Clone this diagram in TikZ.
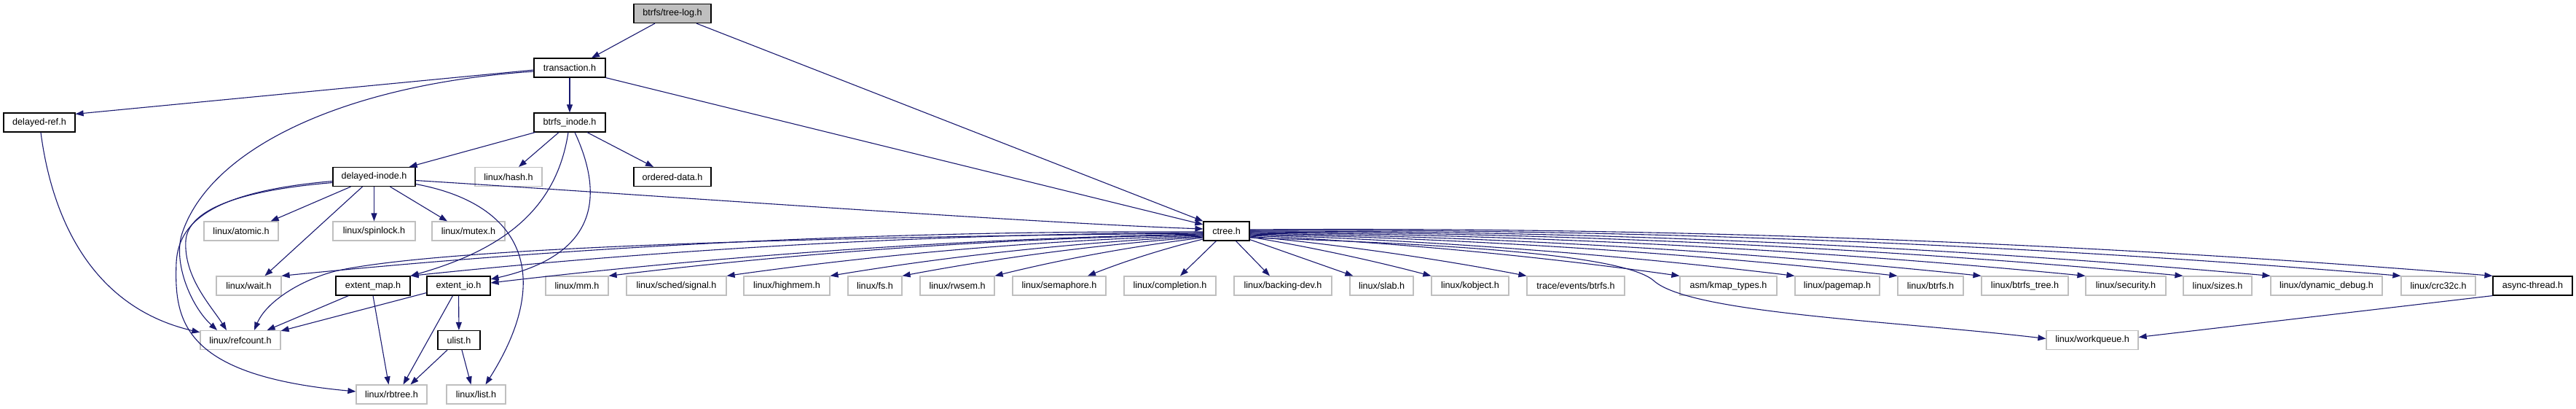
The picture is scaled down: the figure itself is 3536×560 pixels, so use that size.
\documentclass[tikz,border=0pt]{standalone}
\usepackage{fontspec}
\setmainfont{Liberation Sans}
\usetikzlibrary{arrows.meta,calc}
\definecolor{edgeblue}{HTML}{191970}
\definecolor{boxgrey}{HTML}{BFBFBF}
\begin{document}
\begin{tikzpicture}[x=1pt,y=-1pt,
  box/.style={draw=black, line width=1.2pt, fill=white, minimum height=26pt, inner sep=0pt,
    font=\fontsize{12.6}{15}\selectfont, text=black},
  ext/.style={box, draw=boxgrey},
  root/.style={box, fill=boxgrey},
  dep/.style={draw=edgeblue, line width=1.1pt, -{Triangle[length=11pt,width=8pt]}},
]
\fill[white] (0,0) rectangle (3536,560);
\useasboundingbox (0,0) rectangle (3536,560);

% row 0-3
\node[root, minimum width=106pt] (treelog) at (923,18.5) {btrfs/tree-log.h};
\node[box, minimum width=98pt] (transaction) at (782,93) {transaction.h};
\node[box, minimum width=98pt] (delayedref) at (54,168) {delayed-ref.h};
\node[box, minimum width=98pt] (btrfsinode) at (782,168) {btrfs\_inode.h};
\node[box, minimum width=113pt] (delayedinode) at (513.5,242.5) {delayed-inode.h};
\node[ext, minimum width=92pt] (hash) at (698,242.5) {linux/hash.h};
\node[box, minimum width=106pt] (ordered) at (923,242.5) {ordered-data.h};
% row 4
\node[ext, minimum width=102pt] (atomic) at (331,317) {linux/atomic.h};
\node[ext, minimum width=113pt] (spinlock) at (513.5,317) {linux/spinlock.h};
\node[ext, minimum width=100pt] (mutex) at (643,317) {linux/mutex.h};
\node[box, minimum width=63pt] (ctree) at (1683.5,317) {ctree.h};
% row 5
\node[ext, minimum width=89pt] (wait) at (341.5,392) {linux/wait.h};
\node[box, minimum width=102pt] (extentmap) at (512,392) {extent\_map.h};
\node[box, minimum width=87pt] (extentio) at (629.5,392) {extent\_io.h};
\node[ext, minimum width=86pt] (mm) at (792,392) {linux/mm.h};
\node[ext, minimum width=137pt] (signal) at (928.5,392) {linux/sched/signal.h};
\node[ext, minimum width=118pt] (highmem) at (1080,392) {linux/highmem.h};
\node[ext, minimum width=74pt] (fs) at (1201,392) {linux/fs.h};
\node[ext, minimum width=102pt] (rwsem) at (1314,392) {linux/rwsem.h};
\node[ext, minimum width=128pt] (semaphore) at (1454,392) {linux/semaphore.h};
\node[ext, minimum width=126pt] (completion) at (1606,392) {linux/completion.h};
\node[ext, minimum width=134pt] (backingdev) at (1761,392) {linux/backing-dev.h};
\node[ext, minimum width=87pt] (slab) at (1896.5,392) {linux/slab.h};
\node[ext, minimum width=106pt] (kobject) at (2018,392) {linux/kobject.h};
\node[ext, minimum width=134pt] (trace) at (2163,392) {trace/events/btrfs.h};
\node[ext, minimum width=133pt] (kmap) at (2372.5,392) {asm/kmap\_types.h};
\node[ext, minimum width=116pt] (pagemap) at (2522,392) {linux/pagemap.h};
\node[ext, minimum width=90pt] (btrfs) at (2650,392) {linux/btrfs.h};
\node[ext, minimum width=119pt] (btrfstree) at (2779.5,392) {linux/btrfs\_tree.h};
\node[ext, minimum width=110pt] (security) at (2918,392) {linux/security.h};
\node[ext, minimum width=94pt] (sizes) at (3044,392) {linux/sizes.h};
\node[ext, minimum width=153pt] (dyndebug) at (3193.5,392) {linux/dynamic\_debug.h};
\node[ext, minimum width=102pt] (crc32c) at (3347,392) {linux/crc32c.h};
\node[box, minimum width=109pt] (async) at (3476.5,392) {async-thread.h};
% row 6-7
\node[ext, minimum width=110pt] (refcount) at (330,466.5) {linux/refcount.h};
\node[box, minimum width=58pt] (ulist) at (630,466.5) {ulist.h};
\node[ext, minimum width=126pt] (workqueue) at (2872,466.5) {linux/workqueue.h};
\node[ext, minimum width=97pt] (rbtree) at (537.5,541) {linux/rbtree.h};
\node[ext, minimum width=81pt] (list) at (653.5,541) {linux/list.h};

% tree-log
\draw[dep] ($(treelog.south)+(-24,0)$) -- ($(transaction.north)+(30,0)$);
\draw[dep] ($(treelog.south)+(33,0)$) -- (ctree.north west);
% transaction
\draw[dep] ($(transaction.west)+(0,3)$) -- ($(delayedref.north east)+(0,2)$);
\draw[dep] (transaction) -- (btrfsinode);
\draw[dep] (transaction.south east) -- ($(ctree.west)+(0,-9)$);
\draw[dep] ($(transaction.west)+(0,5)$) .. controls (480,115) and (290,200) .. (250,320)
  .. controls (237,360) and (262,420) .. ($(refcount.north)+(-32,0)$);
% delayed-ref
\draw[dep] ($(delayedref.south)+(2,0)$) .. controls (70,290) and (120,420) .. ($(refcount.north west)+(0,3)$);
% btrfs_inode
\draw[dep] ($(btrfsinode.south west)+(2,0)$) -- ($(delayedinode.north east)+(-9,0)$);
\draw[dep] ($(btrfsinode.south)+(-15,0)$) -- ($(hash.north)+(14,0)$);
\draw[dep] ($(btrfsinode.south)+(24,0)$) -- ($(ordered.north)+(-26,0)$);
\draw[dep] ($(btrfsinode.south)+(-2,0)$) .. controls (765,280) and (700,340) .. (extentmap.north east);
\draw[dep] ($(btrfsinode.south)+(7,0)$) .. controls (830,270) and (820,350) .. ($(extentio.east)+(0,-9)$);
% delayed-inode
\draw[dep] ($(delayedinode.south)+(-32,0)$) -- ($(atomic.north east)+(-11,0)$);
\draw[dep] ($(delayedinode.south)+(-16,0)$) -- ($(wait.north)+(22,0)$);
\draw[dep] (delayedinode) -- (spinlock);
\draw[dep] ($(delayedinode.south)+(22,0)$) -- ($(mutex.north)+(-29,0)$);
\draw[dep] ($(delayedinode.west)+(0,8)$) .. controls (320,262) and (258,290) .. (255,330)
  .. controls (252,380) and (290,420) .. ($(refcount.north)+(-19,0)$);
\draw[dep] ($(delayedinode.west)+(0,6)$) .. controls (300,262) and (245,300) .. (242,360)
  .. controls (239,440) and (250,515) .. ($(rbtree.west)+(0,-4)$);
\draw[dep] ($(delayedinode.east)+(0,10)$) .. controls (720,280) and (760,380) .. ($(list.north)+(13,0)$);
\draw[dep] ($(delayedinode.east)+(0,5)$) .. controls (900,268) and (1400,305) .. ($(ctree.west)+(0,-3)$);
% extent_map, extent_io, ulist, async
\draw[dep] ($(extentmap.south west)+(18,0)$) -- ($(refcount.north east)+(-19,0)$);
\draw[dep] (extentmap.south) -- ($(rbtree.north)+(-4,0)$);
\draw[dep] ($(extentio.south west)+(0,-4)$) -- ($(refcount.north east)+(0,1)$);
\draw[dep] ($(extentio.south)+(-8,0)$) -- ($(rbtree.north)+(16,0)$);
\draw[dep] (extentio) -- (ulist);
\draw[dep] ($(ulist.south)+(-16,0)$) -- ($(rbtree.north)+(26,0)$);
\draw[dep] ($(ulist.south)+(4,0)$) -- ($(list.north)+(-7,0)$);
\draw[dep] (async.south west) -- ($(workqueue.east)+(0,-4)$);
% ctree fan (left)
\foreach \t/\s/\k in {wait/1/22, extentmap/2/18, mm/5/14, signal/6/12, highmem/7/10, fs/8/8, rwsem/9/6}{
  \path ($(ctree.west)+(0,\s)$) coordinate (fanS) (\t.north east) coordinate (fanE);
  \draw[dep] (fanS) .. controls ($(fanS)!0.33!(fanE)+(0,-\k)$) and ($(fanS)!0.67!(fanE)+(0,-\k)$) .. (fanE);
}
\path ($(ctree.west)+(0,4)$) coordinate (fanS) ($(extentio.east)+(0,-4)$) coordinate (fanE);
\draw[dep] (fanS) .. controls ($(fanS)!0.33!(fanE)+(0,-16)$) and ($(fanS)!0.67!(fanE)+(0,-16)$) .. (fanE);
\path ($(ctree.west)+(0,11)$) coordinate (fanS) ($(semaphore.north)+(39,0)$) coordinate (fanE);
\draw[dep] (fanS) .. controls ($(fanS)!0.33!(fanE)+(0,-4)$) and ($(fanS)!0.67!(fanE)+(0,-4)$) .. (fanE);
\draw[dep] ($(ctree.west)+(0,3)$) .. controls (1100,325) and (600,340) .. (460,372)
  .. controls (410,385) and (365,415) .. ($(refcount.north)+(19,0)$);
\draw[dep] ($(ctree.south west)+(18,0)$) -- ($(completion.north)+(14,0)$);
\draw[dep] ($(ctree.south)+(13,0)$) -- ($(backingdev.north)+(-18,0)$);
\draw[dep] ($(ctree.south east)+(0,-2)$) -- ($(slab.north west)+(5,0)$);
% ctree fan (right)
\foreach \t/\s/\k in {kobject/8/4, trace/7/6, kmap/6/9, pagemap/5/11, btrfs/4/13, btrfstree/3/15, security/2/17, sizes/1/19, dyndebug/0/21, crc32c/-1/23, async/-2/25}{
  \path ($(ctree.east)+(0,\s)$) coordinate (fanS) (\t.north west) coordinate (fanE);
  \draw[dep] (fanS) .. controls ($(fanS)!0.33!(fanE)+(0,-\k)$) and ($(fanS)!0.67!(fanE)+(0,-\k)$) .. (fanE);
}
\draw[dep] ($(ctree.east)+(0,9)$) .. controls (2000,335) and (2230,350) .. (2270,385)
  .. controls (2320,430) and (2600,440) .. ($(workqueue.west)+(0,-2)$);
\end{tikzpicture}
\end{document}
